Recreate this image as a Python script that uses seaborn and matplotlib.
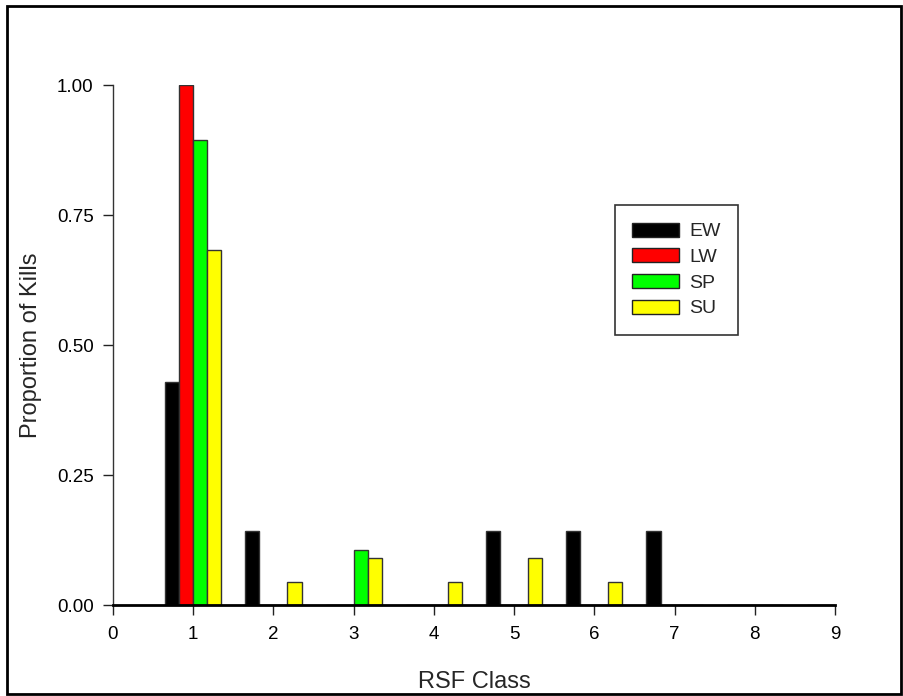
import matplotlib
matplotlib.use("Agg")
import matplotlib.pyplot as plt
import seaborn as sns
import pandas as pd
from matplotlib.patches import Rectangle

classes = [1, 2, 3, 4, 5, 6, 7, 8, 9]
ew = [0.429, 0.143, 0.0, 0.0, 0.143, 0.143, 0.143, 0.0, 0.0]
lw = [1.0, 0.0, 0.0, 0.0, 0.0, 0.0, 0.0, 0.0, 0.0]
sp = [0.895, 0.0, 0.105, 0.0, 0.0, 0.0, 0.0, 0.0, 0.0]
su = [0.682, 0.045, 0.091, 0.045, 0.091, 0.045, 0.0, 0.0, 0.0]
seasons = ["EW", "LW", "SP", "SU"]
colors = ["#000000", "#ff0000", "#00ff00", "#ffff00"]
yticks = [0.0, 0.25, 0.5, 0.75, 1.0]
xticks = [0, 1, 2, 3, 4, 5, 6, 7, 8, 9]

rows = []
for s, vals in zip(seasons, [ew, lw, sp, su]):
    for c, v in zip(classes, vals):
        rows.append({"cls": c, "season": s, "prop": v})
df = pd.DataFrame(rows)

sns.set_style("ticks")
plt.rcParams["font.family"] = ["Liberation Sans", "DejaVu Sans"]

fig = plt.figure(figsize=(9.04, 6.96), dpi=100)
ax = fig.add_axes([113 / 904, 1 - 605 / 696, 722 / 904, 520 / 696])

sns.barplot(data=df, x="cls", y="prop", hue="season", hue_order=seasons,
            palette=colors, native_scale=True, width=0.7, dodge=True,
            edgecolor="#333333", linewidth=1.0, saturation=1, ax=ax,
            errorbar=None)

ax.set_xlim(0, 9)
ax.set_ylim(0, 1.0)
ax.set_xticks(xticks)
ax.set_xticklabels([str(t) for t in xticks])
ax.set_yticks(yticks)
ax.set_yticklabels([f"{t:.2f}" for t in yticks])
ax.tick_params(axis="both", labelsize=13.5, length=7, width=1, direction="out", colors="#222222")
ax.tick_params(axis="x", pad=8)
ax.tick_params(axis="y", pad=7)
for lab in ax.get_xticklabels() + ax.get_yticklabels():
    lab.set_color("black")
for side in ["top", "right"]:
    ax.spines[side].set_visible(False)
ax.spines["left"].set_linewidth(1)
ax.spines["left"].set_color("#333333")
ax.spines["bottom"].set_linewidth(2)
ax.spines["bottom"].set_color("black")

ax.set_xlabel("RSF Class", fontsize=17, labelpad=20)
ax.set_ylabel("Proportion of Kills", fontsize=17, labelpad=11)

handles, labels = ax.get_legend_handles_labels()
leg = ax.legend(handles, labels, loc="upper left",
                bbox_to_anchor=((615 - 113) / 722, (605 - 205) / 520),
                fontsize=14, frameon=True, fancybox=False, shadow=False,
                handlelength=2.4, handleheight=0.75, labelspacing=0.4,
                borderpad=0.9, handletextpad=0.5, borderaxespad=0)
leg.get_frame().set_edgecolor("#333333")
leg.get_frame().set_linewidth(1.2)
leg.get_frame().set_alpha(1)
for h in leg.legend_handles:
    h.set_edgecolor("#222222")

fig.patches.append(Rectangle((7 / 904, 1 - 694 / 696), 894 / 904, 688 / 696,
                             transform=fig.transFigure, fill=False,
                             edgecolor="black", linewidth=2))

fig.savefig("out.png", dpi=100)
